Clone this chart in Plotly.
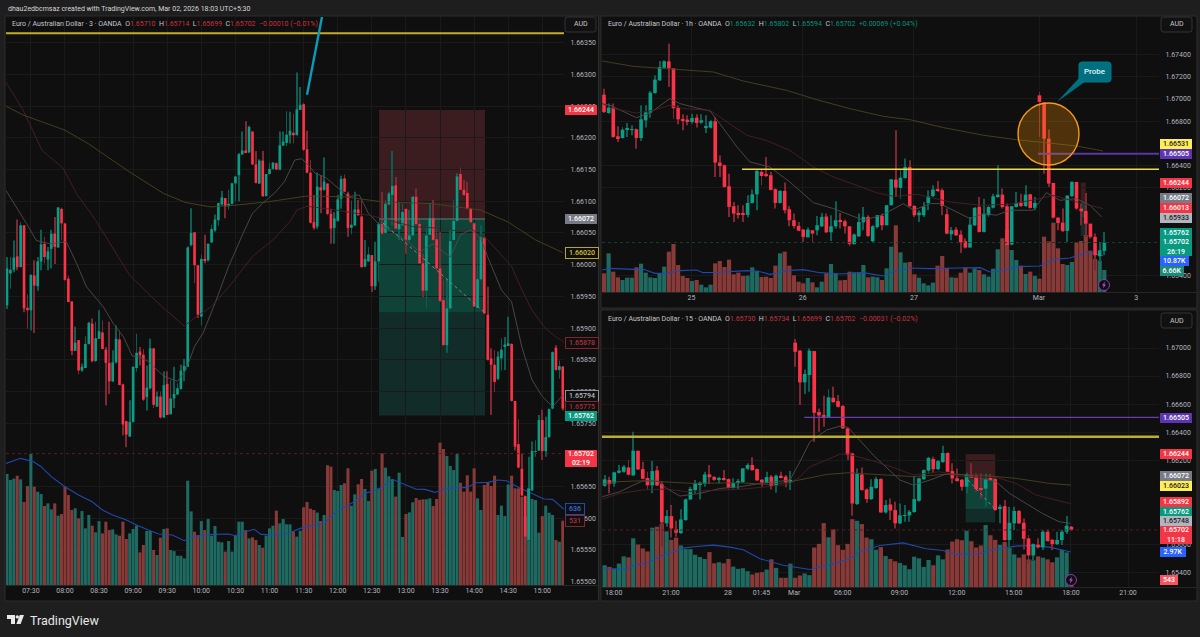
import plotly.graph_objects as go

W, H = 1200, 637

# prices are stored in points: 65936 means 1.65936

# --- 3 minute pane ---
O_3M = [65936,65986,65992,66013,65996,66062,65932,65928,65983,65966,
        66005,66033,66008,66025,66049,66027,66088,66065,65978,65942,
        65864,65881,65833,65837,65875,65907,65848,65883,65893,65866,
        65845,65816,65846,65882,65811,65753,65729,65752,65837,65863,
        65858,65791,65805,65868,65776,65792,65759,65812,65764,65789,
        65795,65804,65833,65839,66031,66051,65999,65918,66009,66007,
        66035,66054,66070,66095,66105,66092,66096,66128,66141,66174,
        66180,66177,66210,66158,66128,66164,66108,66143,66151,66160,
        66150,66188,66192,66204,66208,66204,66244,66253,66182,66145,
        66067,66060,66122,66118,66128,66080,66058,66069,66104,66136,
        66112,66058,66062,66087,66076,65997,66005,66015,65966,66005,
        66064,66050,66095,66110,66125,66056,66062,66088,66039,66046,
        66107,66064,66002,65959,66047,66073,66040,65994,65944,65873,
        65931,66039,66069,66143,66118,66113,66088,66065,65932,65977,
        66043,65921,65852,65842,65820,65852,65871,65873,65875,65785,
        65717,65678,65635,65566,65644,65705,65707,65755,65706,65728,
        65773,65869,65834,65839]
H_3M = [66012,66012,66038,66071,66067,66062,65953,65984,66007,66012,
        66055,66044,66028,66055,66075,66091,66090,66065,65983,65942,
        65902,65881,65844,65887,65910,65915,65910,65928,65912,65870,
        65910,65865,65904,65896,65812,65754,65786,65839,65891,65870,
        65867,65841,65883,65868,65800,65800,65832,65832,65818,65839,
        65813,65842,65851,66029,66089,66051,65999,66016,66047,66033,
        66063,66079,66098,66116,66105,66118,66129,66140,66176,66210,
        66226,66219,66210,66179,66166,66179,66143,66161,66161,66161,
        66210,66210,66242,66241,66238,66303,66280,66255,66211,66165,
        66110,66145,66141,66169,66128,66088,66083,66110,66140,66142,
        66115,66101,66115,66102,66104,66039,66028,66015,66036,66067,
        66115,66102,66115,66179,66138,66099,66096,66088,66086,66108,
        66120,66070,66017,66060,66097,66102,66060,66052,65976,65976,
        66055,66102,66144,66153,66134,66131,66089,66066,66039,66062,
        66043,65965,65868,65865,65863,65884,65886,65918,65876,65785,
        65756,65702,65636,65697,65721,65723,65763,65771,65760,65773,
        65863,65873,65849,65840]
L_3M = [65930,65962,65988,65991,65996,65925,65899,65896,65892,65959,
        65991,66002,65991,65994,66001,66027,66038,65975,65941,65857,
        65864,65827,65831,65837,65874,65846,65846,65883,65866,65778,
        65796,65815,65844,65810,65731,65712,65728,65751,65831,65841,
        65785,65770,65803,65774,65776,65757,65758,65763,65764,65774,
        65795,65803,65816,65839,66029,65971,65916,65904,66002,66005,
        66034,66052,66061,66093,66073,66087,66095,66100,66100,66173,
        66176,66176,66157,66128,66127,66107,66108,66142,66150,66149,
        66149,66187,66187,66191,66191,66204,66244,66179,66144,66065,
        66055,66056,66081,66117,66078,66033,66033,66068,66088,66114,
        66044,66048,66061,66077,65995,65996,66004,65957,65960,65973,
        66048,66049,66094,66062,66056,66039,66061,66017,66037,66045,
        66062,66001,65949,65932,66047,66038,65992,65941,65873,65861,
        65931,66039,66069,66118,66109,66087,66066,65934,65931,65976,
        65922,65849,65763,65799,65818,65833,65834,65873,65784,65707,
        65678,65635,65570,65565,65643,65697,65706,65692,65697,65727,
        65772,65833,65820,65770]
C_3M = [65994,65992,66011,65996,66062,65931,65928,65984,65967,66005,
        66032,66012,66021,66049,66028,66090,66065,65976,65941,65864,
        65877,65833,65839,65875,65908,65848,65884,65895,65867,65845,
        65816,65846,65883,65810,65748,65732,65752,65839,65861,65857,
        65787,65806,65868,65779,65792,65759,65810,65763,65789,65796,
        65805,65833,65840,66027,66050,65999,65921,66009,66007,66033,
        66056,66071,66097,66106,66092,66096,66128,66139,66174,66180,
        66177,66217,66158,66129,66164,66108,66143,66151,66161,66150,
        66188,66194,66205,66211,66204,66245,66252,66181,66145,66066,
        66058,66123,66117,66131,66080,66057,66073,66103,66135,66115,
        66058,66063,66087,66078,65996,66009,66016,65966,66005,66064,
        66049,66096,66112,66124,66057,66064,66083,66039,66046,66107,
        66064,66002,65959,66046,66073,66039,65994,65943,65873,65931,
        66037,66069,66139,66118,66110,66089,66067,65934,65977,66043,
        65923,65850,65842,65815,65855,65866,65874,65876,65785,65713,
        65680,65636,65571,65647,65706,65706,65755,65706,65728,65772,
        65862,65834,65840,65773]
V_3M = [929,879,890,915,884,695,828,1096,823,781,
        762,661,683,633,683,580,594,823,753,628,
        642,558,619,474,586,496,441,535,432,530,
        460,466,424,413,530,385,432,469,496,273,
        335,452,452,293,251,396,469,474,293,284,
        245,245,223,873,616,446,418,535,460,552,
        413,494,362,357,279,368,279,413,530,530,
        460,390,399,376,335,312,413,474,496,622,
        516,552,508,508,447,405,455,650,695,639,
        628,606,536,586,1002,991,795,787,837,851,
        977,664,759,843,887,804,703,957,971,809,
        1102,982,910,887,740,940,402,594,608,692,
        728,712,717,717,725,661,720,1191,1138,1079,
        996,962,1096,856,781,918,781,976,725,628,
        837,859,828,915,586,664,577,842,915,809,
        809,739,572,809,720,711,438,577,664,605,
        586,376,362,538]

GRAY_3M_I = [0.7,4.7,6.7,9.6,13.5,18.4,21.4,24.3,29.3,32.2,35.2,37.7,40,42.5,44,47,51,53.5,56,58.5,62,66,
             70.3,73,76,79.5,82.4,85.4,87.4,89.4,91.4,94.3,98.3,101,104.3,107,110,114,118,122,126,129,131,
             134,137,140,142,146,149,152,155,158,161,164]
GRAY_3M = [66117,66083,66065,66038,66033,66036,66002,65965,65933,65907,65886,65856,65854,65847,65839,65824,
           65816,65834,65871,65892,65939,65997,66050,66081,66097,66113,66131,66165,66167,66157,66144,66138,
           66120,66107,66110,66081,66064,66052,66039,66020,66033,66020,66012,66047,66055,66041,66012,65960,
           65941,65870,65818,65792,65776,65794]
RED_3M_I = [0.7,5.7,11.3,17.5,21.4,27,37,41.5,46.4,53,56,61,67,73,79,84,86,89,95,107,111,120,129,134,137,
            142,149,152,155,159,162,164.3]
RED_3M = [66288,66244,66180,66152,66112,66070,65983,65960,65934,65903,65916,65934,65971,66013,66039,66068,
          66086,66092,66088,66078,66073,66060,66057,66052,66057,66039,65997,65960,65928,65899,65886,65878]
OLIVE_3M_I = [0.7,5.7,18,24.8,37,47,53.4,60.7,68.5,77.5,88.7,100,111,126,140,148,156,164]
OLIVE_3M = [66250,66236,66212,66191,66146,66112,66098,66091,66094,66099,66108,66107,66099,66096,66086,66067,
            66039,66019]
VMA_3M_I = [0.7,5,8.8,11,14,18,22,26,29,32,36,39,43,45.5,49.5,53,55,61,66,68,71,73.5,75.5,79,83,87,94,97,
            101,103,106,110,114,117,121,123.6,126.5,130,136,138.5,142,145,147.5,151.5,154.5,158.5,161,164.3]
VMA_3M = [1018,1060,1032,990,907,823,753,697,628,586,544,502,455,427,418,371,399,424,427,413,446,466,424,418,
          427,474,516,600,670,698,767,801,885,851,801,800,775,809,817,856,859,879,873,809,773,720,717,636]

# --- 1 hour pane ---
O_1H = [67039,66873,66922,66663,66647,66723,66720,66726,66647,66807,
        66876,67054,67169,67283,67340,67277,66922,66816,66813,66792,
        66831,66786,66741,66741,66798,66425,66400,66211,66030,65970,
        65964,65952,66060,66138,66343,66316,66310,66184,66060,66169,
        66003,65904,65852,65819,65750,65813,65813,65849,65937,65795,
        65849,65904,65894,65849,65687,65759,65885,65934,65714,65843,
        65943,65858,66039,66271,66196,66286,66385,66033,65949,65949,
        66060,66123,66184,66175,65958,65777,65819,65774,65714,65657,
        65858,66024,65798,65949,66018,66114,66135,66030,65684,66024,
        66063,66033,66138,66015,67033,66967,66641,66241,65928,65882,
        65807,66123,66250,66009,65988,65873,65753,65578,65627]
H_1H = [67093,66958,66958,66753,66747,66783,66762,66732,66943,66943,
        67072,67214,67343,67349,67500,67277,66943,66861,66852,66867,
        66861,66861,66852,66807,66837,66491,66407,66325,66069,66039,
        66039,66129,66181,66361,66361,66476,66340,66190,66175,66244,
        66033,65964,65888,65825,65837,65813,65943,65970,65964,65949,
        66075,65970,65910,65849,65783,65964,66024,65949,65858,65949,
        65964,66039,66274,66717,66370,66461,66446,66039,65994,66069,
        66175,66220,66259,66190,66009,65843,65843,65813,65738,65934,
        66024,66114,66099,66039,66144,66400,66190,66054,66033,66160,
        66144,66220,66144,66114,67063,66973,66723,66241,65928,66009,
        66129,66256,66250,66054,66151,65873,65783,65708,65798]
L_1H = [66873,66867,66650,66611,66641,66657,66672,66551,66620,66741,
        66831,67048,67163,67274,67108,66822,66771,66717,66762,66777,
        66741,66777,66693,66732,66295,66295,66199,65934,65888,65919,
        65888,65928,66054,65994,66220,66295,66175,66009,66054,65964,
        65849,65828,65804,65708,65747,65699,65768,65843,65789,65717,
        65828,65828,65783,65669,65687,65753,65813,65753,65708,65828,
        65813,65858,66039,66114,66099,66280,66024,65934,65888,65934,
        65994,66114,66160,65949,65777,65723,65762,65608,65648,65657,
        65852,65792,65792,65934,66009,66108,66009,65672,65678,66018,
        66024,66024,66009,65994,66657,66325,66205,65919,65813,65798,
        65708,66114,65994,65858,65753,65738,65452,65527,65587]
C_1H = [66882,66922,66657,66647,66723,66729,66726,66647,66816,66879,
        67057,67175,67289,67340,67277,66916,66816,66807,66792,66828,
        66783,66807,66747,66798,66425,66394,66205,66024,65964,65958,
        65955,66060,66138,66349,66304,66304,66178,66060,66169,65994,
        65904,65852,65810,65753,65819,65783,65858,65934,65795,65849,
        65904,65888,65849,65687,65774,65888,65934,65762,65849,65949,
        65858,66039,66274,66199,66289,66385,66033,65949,65973,66024,
        66120,66181,66169,66033,65783,65813,65768,65705,65657,65864,
        66015,65798,65958,66024,66120,66135,66024,65678,66030,66060,
        66033,66135,66015,66060,66973,66641,66235,65928,65879,65807,
        66126,66250,66009,65985,65873,65753,65587,65632,65699]
V_1H = [5600,11600,6100,4400,3600,4300,4300,7400,8500,5800,
        4400,4200,5600,7600,12100,14400,8100,4800,4200,3300,
        3600,2200,1400,2200,8600,9300,7500,9700,5300,5800,
        4800,4900,7400,6400,4500,4600,4200,7900,11600,12100,
        7900,5000,3100,2600,4200,2900,1400,3100,5600,8400,
        5600,3500,3600,6100,5900,5900,8100,4400,4600,4400,
        3600,7100,13600,20000,11900,8800,9000,5300,4300,2600,
        2000,2800,7900,10800,7200,4400,4300,5800,7400,5800,
        7100,6600,5300,4600,7000,12800,16100,18600,12600,9600,
        7900,5400,6100,4800,4000,16600,15200,20800,13100,8400,
        8100,9000,14900,15300,17100,12400,9900,9400,6600]

GRAY_1H_I = [0.6,2.3,8,10.9,15.2,17.4,21,23.9,26.8,29.7,32.5,36.8,41.1,46.2,50.5,54.1,57,61,65.6,67.8,71.4,
             73.5,77,80,82.9,85.7,88.6,93.6,96.5,99.4,103,105.9,108.4]
GRAY_1H = [66958,66943,66831,66873,67003,66958,66919,66891,66732,66566,66431,66385,66250,66063,66009,65949,
           65904,65949,66054,65994,66054,66054,65979,65919,65964,65949,65994,65994,66153,66084,66099,66039,
           65934]
RED_1H_I = [0.6,3.7,8,11.6,15.2,18.1,23.9,27.5,31.8,36,41.1,46.2,50.5,54.1,59.9,63.5,68.6,75.7,82.2,88.6,
            95.1,98,103,108.7]
RED_1H = [66958,66907,66873,66897,66943,66913,66897,66792,66672,66626,66536,66385,66295,66241,66151,66120,
          66138,66069,66039,66048,66099,66129,66069,66009]
OLIVE_1H_I = [0.6,7.3,14.5,24.6,31,40.4,46.9,54,61.3,67,74.3,82.9,90,95,103,108.7]
OLIVE_1H = [67343,67295,67274,67244,67163,67078,66994,66913,66843,66813,66741,66672,66632,66611,66575,66530]
VMA_1H_I = [0.6,2.3,7.3,9.5,12,14.2,17.5,21,22.4,25.3,31.8,34.7,36.8,40.4,44,47.6,51.9,54,57,61.3,63.1,67,
            71.4,77.9,82.2,84.3,86.5,90,95.1,98,101.6,105.5,108.7]
VMA_1H = [6600,7100,6800,6800,5600,5600,6400,6600,5800,5900,6400,6100,5300,6400,6700,5800,5400,5600,5800,
          4800,5900,7200,7000,7200,7300,6000,6300,7600,7800,9800,10200,12000,10870]

# --- 15 minute pane ---
O_15 = [66017,66058,66034,66110,66117,66148,66091,66267,66136,66072,
        66020,66127,66029,65749,65801,65708,65680,65773,65920,65987,
        66025,66032,66098,66079,66065,66070,66065,66003,66036,66044,
        66139,66165,66136,66060,66039,66082,66017,66089,66082,66041,
        67038,66981,66755,66807,66978,66543,66522,66505,66645,66621,
        66586,66427,66248,65887,66098,65991,65922,66001,66065,65827,
        65884,65844,65749,65803,65806,65830,65910,66065,66125,66208,
        66136,66186,66251,66122,66070,66060,66010,66091,66084,66001,
        65996,66070,66065,65851,65872,65630,65749,65837,65753,65642,
        65520,65597,65578,65689,65632,65601,65630,65689,65725]
H_15 = [66094,66082,66117,66165,66165,66201,66403,66267,66189,66117,
        66193,66158,66051,65844,65880,65768,65849,65927,66010,66058,
        66046,66117,66165,66086,66082,66129,66070,66070,66065,66143,
        66177,66220,66141,66065,66117,66094,66098,66117,66094,66122,
        67064,66985,66847,66997,66978,66569,66660,66705,66724,66664,
        66593,66431,66253,66141,66148,65998,66063,66082,66070,65915,
        65927,65903,65891,65880,65844,66086,66075,66134,66224,66224,
        66201,66303,66255,66177,66141,66065,66110,66177,66105,66105,
        66105,66101,66070,65884,65915,65868,65868,65844,65784,65666,
        65606,65642,65701,65706,65635,65689,65701,65801,65730]
L_15 = [66010,65963,66010,66105,66110,66089,66089,66129,66063,65991,
        65963,66015,65582,65725,65649,65654,65673,65768,65915,65963,
        65920,66010,66029,66053,66034,66053,65998,65998,65994,66039,
        66129,66125,66051,66010,66034,65991,65968,66070,66006,65987,
        66866,66593,66671,66688,66331,66403,66438,66500,66610,66576,
        66422,66201,65803,65880,65982,65896,65915,65996,65825,65820,
        65773,65713,65744,65761,65761,65825,65903,66058,66101,66110,
        66129,66182,66113,66034,66046,65982,65963,66075,65975,65927,
        65868,66058,65839,65749,65625,65570,65701,65744,65563,65459,
        65487,65570,65559,65618,65559,65594,65594,65673,65696]
C_15 = [66063,66029,66113,66125,66153,66096,66267,66134,66067,66020,
        66122,66020,65756,65801,65713,65682,65777,65920,65994,66034,
        66039,66098,66079,66060,66072,66065,66003,66036,66051,66141,
        66165,66129,66056,66041,66079,66015,66089,66077,66041,66060,
        66973,66755,66814,66981,66538,66519,66505,66648,66614,66581,
        66427,66236,65891,66101,65987,65922,66010,66065,65827,65880,
        65841,65749,65806,65808,65832,65922,66070,66129,66217,66136,
        66193,66251,66117,66070,66056,66010,66098,66079,65994,65987,
        66065,66060,65844,65868,65630,65753,65837,65749,65639,65520,
        65601,65578,65689,65623,65601,65630,65689,65732,65701]
V_15 = [1848,1708,1568,1988,2604,2520,4144,3612,3276,3024,
        5040,5124,5404,4732,4004,4200,3528,3220,3220,2744,
        2548,2380,2968,2016,2100,2016,2380,1736,1540,1596,
        1344,1064,1204,1260,1484,2352,1624,784,784,1988,
        784,980,1148,1008,3360,3668,5432,4228,4900,3556,
        3164,3668,5768,5628,5348,4200,4060,3164,3388,2632,
        2380,2184,2044,1848,1512,2576,2436,1708,2296,1848,
        2688,2352,3192,3864,4060,3976,4788,3892,3360,3528,
        5264,4396,4004,3584,3836,3332,2772,2492,2772,2352,
        2268,2604,2492,2352,2100,2520,3164,2940,543]

GRAY_15_I = [0.5,4.2,7,9,11.9,14,16.8,21,25.2,29.4,33.6,39.9,42,44.1,47.6,50.4,52.1,57.4,63,65.8,69.3,72.7,
             76.9,83.2,86,89.5,92.9,96.4,98.8]
GRAY_15 = [65939,65975,66022,66051,66058,65998,65944,65963,65998,66010,66034,66058,66189,66331,66415,66443,
           66434,66236,66058,66022,66058,66101,66094,66046,65963,65891,65820,65761,65749]
RED_15_I = [0.5,4.2,9,14,18.2,23.8,30.1,35,39.9,42,44.1,47.6,50.4,52.1,56.7,61.6,65.8,71.3,76.2,83.2,87.4,
            91.6,95.8,98.9]
RED_15 = [65922,65963,65987,65994,65975,65982,65994,66010,66029,66082,66153,66201,66243,66243,66201,66148,
          66094,66117,66082,66077,66034,65951,65915,65889]
OLIVE_15_I = [0.5,3.8,9,14,19.6,29.4,35,39,42,47.6,52.1,59.5,66,73.4,80.4,87.4,94.4,98.9]
OLIVE_15 = [66029,66046,66053,66046,66034,66039,66027,66039,66058,66098,66110,66094,66082,66101,66091,66070,
            66034,66022]
VMA_15_I = [0.5,5.6,7.7,9.8,14,17.5,20.3,23.8,27.3,30.1,33.6,38.5,44.1,48.3,52.5,54.6,58.8,63.7,68.5,72,
            74.8,79.7,83.2,87.4,90.2,94.4,98.9]
VMA_15 = [1512,1540,1904,2044,2828,3304,3444,3556,3388,3164,2408,1848,1484,1904,2408,3024,3528,3752,3248,3108,
          2772,2828,3248,3472,3528,3388,2970]

# tick labels, the ones fully covered by a price tag in the picture are left out
TICKS_3M = [1.655,1.6555,1.656,1.6565,1.6575,1.658,1.6585,1.659,1.6595,1.66,1.6605,1.661,1.6615,1.662,
            1.6625,1.663,1.6635]
TICKS_1H = [1.654,1.662,1.664,1.668,1.67,1.672,1.674]
TICKS_15 = [1.654,1.656,1.662,1.664,1.666,1.668,1.67]
GRID_1H = [1.654,1.656,1.658,1.66,1.662,1.664,1.666,1.668,1.67,1.672,1.674]
GRID_15 = [1.654,1.656,1.658,1.66,1.662,1.664,1.666,1.668,1.67]
XT_3M = ["07:30","08:00","08:30","09:00","09:30","10:00","10:30","11:00","11:30","12:00","12:30","13:00","13:30",
         "14:00","14:30","15:00"]
XV_3M = [8,18,28,38,48,58,68,78,88,98,108,118,128,138,148,158]
XT_1H = ["25","26","27","Mar","3"]
XV_1H = [19.9,43.9,67.9,94.9,115.9]
XT_15 = ["18:00","21:00","28","01:45","Mar","06:00","09:00","12:00","15:00","18:00","21:00"]
XV_15 = [2.9,14.9,26.9,33.9,40.8,51,62.9,74.9,86.9,98.9,110.9]

UP, DOWN = "#0a9e87", "#fb3248"
UP_WICK, DOWN_WICK = "#0a5f52", "#7f2833"
UP_VOL, DOWN_VOL = "#1f6a60", "#873a38"
TEXT = "#b2b5be"
FONT = "Roboto"


def px(x):
    return x / W


def py(y):
    return 1 - y / H


def prices(points):
    return [1 + p / 100000 for p in points]


def pick(values, mask):
    return [v if m else None for v, m in zip(values, mask)]


fig = go.Figure()


def add_panel(n, o, h, l, c, v, lines, vma_i, vma, box, x_range, price_range, vol_max, ticks, xvals, xtext):
    suffix = "" if n == 1 else str(n)
    xa, ya, va = "x" + suffix, "y" + suffix, "y" + str(n + 3)
    idx = list(range(1, len(o) + 1))
    up = [a >= b for a, b in zip(c, o)]
    down = [not u for u in up]

    # volume sits on the base axis, price is laid over it
    fig.add_trace(go.Bar(x=idx, y=v, width=0.9, xaxis=xa, yaxis=va, showlegend=False,
                         marker=dict(color=[UP_VOL if u else DOWN_VOL for u in up], line_width=0)))
    fig.add_trace(go.Scatter(x=vma_i, y=vma, mode="lines", xaxis=xa, yaxis=va, showlegend=False,
                             line=dict(color="#2148ad", width=1.1)))

    for mask, wick in ((up, UP_WICK), (down, DOWN_WICK)):
        low, high = prices(l), prices(h)
        fig.add_trace(go.Bar(x=idx, base=pick(low, mask), y=pick([b - a for a, b in zip(low, high)], mask),
                             width=0.2, xaxis=xa, yaxis=ya, showlegend=False,
                             marker=dict(color=wick, line_width=0)))
    for mask, body in ((up, UP), (down, DOWN)):
        bot = prices([min(a, b) for a, b in zip(o, c)])
        top = prices([max(a, b) for a, b in zip(o, c)])
        fig.add_trace(go.Bar(x=idx, base=pick(bot, mask), y=pick([b - a for a, b in zip(bot, top)], mask),
                             width=0.78, xaxis=xa, yaxis=ya, showlegend=False,
                             marker=dict(color=body, line_width=0)))

    for xs, ys, color in lines:
        fig.add_trace(go.Scatter(x=xs, y=prices(ys), mode="lines", xaxis=xa, yaxis=ya, showlegend=False,
                                 line=dict(color=color, width=0.9)))

    fig.update_layout({
        "xaxis" + suffix: dict(domain=[px(box[0]), px(box[1])], range=x_range, anchor=va, tickvals=xvals,
                               ticktext=xtext, showgrid=True, gridcolor="#1a1a1a", zeroline=False,
                               ticks="", tickfont=dict(family=FONT, size=7, color=TEXT), showline=False),
        "yaxis" + str(n + 3): dict(domain=[py(box[3]), py(box[2])], range=[0, vol_max], anchor=xa,
                                   showgrid=False, zeroline=False, showticklabels=False, ticks=""),
        "yaxis" + suffix: dict(range=price_range, overlaying=va, anchor=xa, side="right", tickvals=ticks,
                               ticktext=["%.5f" % t for t in ticks], showgrid=True, gridcolor="#1a1a1a",
                               zeroline=False, ticks="outside", ticklen=4, tickcolor="rgba(0,0,0,0)",
                               tickfont=dict(family=FONT, size=7, color=TEXT), showline=False),
    })


add_panel(1, O_3M, H_3M, L_3M, C_3M, V_3M,
          [(GRAY_3M_I, GRAY_3M, "#4d4d4d"), (RED_3M_I, RED_3M, "#4a2024"), (OLIVE_3M_I, OLIVE_3M, "#4b4320")],
          VMA_3M_I, VMA_3M, (6, 564, 17, 585), [0.71, 164.36], [1.654948, 1.663905], 4754, TICKS_3M, XV_3M, XT_3M)
add_panel(2, O_1H, H_1H, L_1H, C_1H, V_1H,
          [(GRAY_1H_I, GRAY_1H, "#4d4d4d"), (RED_1H_I, RED_1H, "#4a2024"), (OLIVE_1H_I, OLIVE_1H, "#4b4320")],
          VMA_1H_I, VMA_1H, (602, 1159, 17, 292), [0.57, 120.8], [1.65255, 1.67741], 82500, TICKS_1H, XV_1H, XT_1H)
add_panel(3, O_15, H_15, L_15, C_15, V_15,
          [(GRAY_15_I, GRAY_15, "#4d4d4d"), (RED_15_I, RED_15, "#4a2024"), (OLIVE_15_I, OLIVE_15, "#4b4320")],
          VMA_15_I, VMA_15, (602, 1159, 311, 587), [0.44, 117.4], [1.65295, 1.67264], 23460, TICKS_15, XV_15, XT_15)

shapes = []


def panel_rect(x0, y0, x1, y1):
    shapes.append(dict(type="rect", xref="paper", yref="paper", x0=px(x0), x1=px(x1), y0=py(y1), y1=py(y0),
                       fillcolor="#0f0f0f", line=dict(color="#2c2c2c", width=1), layer="below"))


panel_rect(5, 16, 598.5, 601)
panel_rect(601, 16, 1197, 308)
panel_rect(601, 310, 1197, 601)


def hline(xa, ya, x0, x1, price, color, width=1, dash="solid", layer="above"):
    shapes.append(dict(type="line", xref=xa, yref=ya, x0=x0, x1=x1, y0=price, y1=price, layer=layer,
                       line=dict(color=color, width=width, dash=dash)))


def position(xa, ya, x0, x1, top, mid, split, bottom):
    for p0, p1, color in ((top, mid, "#3b1c1f"), (mid, split, "#0f4338"), (split, bottom, "#122d29")):
        shapes.append(dict(type="rect", xref=xa, yref=ya, x0=x0, x1=x1, y0=p0, y1=p1, layer="below",
                           fillcolor=color, line_width=0))


def rounded(x0, y0, x1, y1, r):
    return ("M {a},{t} L {b},{t} Q {c},{t} {c},{e} L {c},{f} Q {c},{g} {b},{g} L {a},{g} Q {d},{g} {d},{f} "
            "L {d},{e} Q {d},{t} {a},{t} Z").format(
        a=px(x0 + r), b=px(x1 - r), c=px(x1), d=px(x0), t=py(y0), g=py(y1), e=py(y0 + r), f=py(y1 - r))


# 3 minute pane drawings
position("x", "y", 110.1, 141.2, 1.66244, 1.66072, 1.65924, 1.65762)
hline("x", "y", 110.1, 141.2, 1.66072, "#5f7d76", 1)
hline("x", "y", 0.71, 164.36, 1.66365, "#c3ad2a", 2)
hline("x", "y", 0.71, 164.36, 1.65702, "#571c22", 1, "dot")
shapes.append(dict(type="line", xref="x", yref="y", x0=111.2, x1=141, y0=1.66066, y1=1.65925, layer="above",
                   line=dict(color="#7d8a86", width=1, dash="dot")))
shapes.append(dict(type="line", xref="x", yref="y", x0=88.98, x1=93.5, y0=1.66268, y1=1.66394, layer="above",
                   line=dict(color="#0a9bb5", width=2.4)))

# 1 hour pane drawings
position("x2", "y2", 103.9, 105, 1.66244, 1.66072, 1.65925, 1.65762)
hline("x2", "y2", 30.8, 120.8, 1.66365, "#efdc45", 1.6)
hline("x2", "y2", 94.7, 120.8, 1.66505, "#5a35a8", 1.8)
hline("x2", "y2", 0.57, 120.8, 1.65702, "#12402f", 1, "dot")
shapes.append(dict(type="circle", xref="paper", yref="paper", x0=px(1018), x1=px(1079), y0=py(165), y1=py(103),
                   fillcolor="rgba(255,152,0,0.26)", line=dict(color="#f5981c", width=1.4), layer="above"))
shapes.append(dict(type="path", xref="paper", yref="paper", layer="above", fillcolor="#006f80", line_width=0,
                   path="M %f,%f L %f,%f L %f,%f Z" % (px(1079), py(78), px(1057), py(102), px(1086), py(81))))
shapes.append(dict(type="path", xref="paper", yref="paper", layer="above", fillcolor="#006f80",
                   line=dict(color="#00798b", width=1), path=rounded(1079, 62, 1111, 82, 3)))

# 15 minute pane drawings
position("x3", "y3", 76.8, 83, 1.66243, 1.66065, 1.65851, 1.65756)
hline("x3", "y3", 0.44, 117.4, 1.66367, "#bfae2d", 2.4)
hline("x3", "y3", 42.9, 117.4, 1.66505, "#6a3ab5", 1.3)
hline("x3", "y3", 0.44, 117.4, 1.65702, "#571c22", 1, "dot")
shapes.append(dict(type="line", xref="x3", yref="y3", x0=77.3, x1=82.8, y0=1.66058, y1=1.65856, layer="above",
                   line=dict(color="#7d8a86", width=1, dash="dot")))

# rules between the charts and their time scales
for x0, x1, y in ((6, 598, 585.5), (602, 1196, 292.5), (602, 1196, 587.5)):
    shapes.append(dict(type="line", xref="paper", yref="paper", x0=px(x0), x1=px(x1), y0=py(y), y1=py(y),
                       line=dict(color="#262626", width=1), layer="above"))

# lightning badges, a circle with a bolt
for cx, cy in ((1104, 285), (1071, 580)):
    shapes.append(dict(type="circle", xref="paper", yref="paper", x0=px(cx - 5.5), x1=px(cx + 5.5),
                       y0=py(cy + 5.5), y1=py(cy - 5.5), fillcolor="#0f0f0f",
                       line=dict(color="#8e3bb0", width=1), layer="above"))
    shapes.append(dict(type="path", xref="paper", yref="paper", layer="above", fillcolor="#a64fd0", line_width=0,
                       path="M %f,%f L %f,%f L %f,%f L %f,%f L %f,%f L %f,%f Z" % (
                           px(cx + 1), py(cy - 3.5), px(cx - 2), py(cy + 0.5), px(cx - 0.3), py(cy + 0.5),
                           px(cx - 1), py(cy + 3.5), px(cx + 2), py(cy - 0.5), px(cx + 0.3), py(cy - 0.5))))

# TradingView mark
shapes.append(dict(type="path", xref="paper", yref="paper", layer="above", fillcolor="#e8e8e8", line_width=0,
                   path="M %f,%f L %f,%f L %f,%f L %f,%f L %f,%f L %f,%f Z" % (
                       px(7), py(615), px(15), py(615), px(15), py(624), px(11), py(624), px(11), py(619),
                       px(7), py(619))))
shapes.append(dict(type="circle", xref="paper", yref="paper", layer="above", fillcolor="#e8e8e8", line_width=0,
                   x0=px(15.6), x1=px(19), y0=py(618.6), y1=py(615.2)))
shapes.append(dict(type="path", xref="paper", yref="paper", layer="above", fillcolor="#e8e8e8", line_width=0,
                   path="M %f,%f L %f,%f L %f,%f L %f,%f Z" % (
                       px(24), py(615), px(19.8), py(615), px(16.4), py(624), px(20.6), py(624))))

annotations = []


def note(x, y, text, size=7, color=TEXT, anchor="left", weight=None, **kw):
    annotations.append(dict(xref="paper", yref="paper", x=px(x), y=py(y), text=text, showarrow=False,
                            xanchor=anchor, yanchor="middle",
                            font=dict(family=FONT, size=size, color=color, weight=weight), **kw))


def tag(x, y, text, bg, fg, w=32, h=9.6, border=None):
    note(x, y, text, color=fg, weight=500, width=w, height=h, bgcolor=bg, align="center", borderpad=0,
         bordercolor=border or bg, borderwidth=1 if border else 0)


def legend(x, y, name, values, tone):
    parts = ["%s<span style='color:%s'>%s</span>" % (k, tone, val) for k, val in values[:4]]
    note(x, y, name + "&nbsp;&nbsp;" + "&nbsp;&nbsp;".join(parts)
         + "&nbsp;&nbsp;<span style='color:%s'>%s</span>" % (tone, values[4]), color="#c4c6cc")


note(6, 9, "dhau2edbcmsaz created with TradingView.com, Mar 02, 2026 18:03 UTC+5:30", color="#d6d6d6")
legend(10, 24, "Euro / Australian Dollar · 3 · OANDA",
       [("O", "1.65710"), ("H", "1.65714"), ("L", "1.65699"), ("C", "1.65702"), "−0.00010 (−0.01%)"], "#c9323f")
legend(606, 23.7, "Euro / Australian Dollar · 1h · OANDA",
       [("O", "1.65632"), ("H", "1.65802"), ("L", "1.65594"), ("C", "1.65702"), "+0.00069 (+0.04%)"], "#0b8f7a")
legend(606, 319, "Euro / Australian Dollar · 15 · OANDA",
       [("O", "1.65730"), ("H", "1.65734"), ("L", "1.65699"), ("C", "1.65702"), "−0.00031 (−0.02%)"], "#c9323f")

# currency buttons
for x, y in ((565, 24.5), (1161, 24.5), (1161, 320.5)):
    shapes.append(dict(type="path", xref="paper", yref="paper", layer="above", fillcolor="#111111",
                       line=dict(color="#353535", width=1), path=rounded(x, y - 7.5, x + 31, y + 7.5, 2.5)))
    note(x + 15.5, y, "AUD", color="#c8c8c8", anchor="center")

# price scale tags, 3 minute pane
LX = 564.5
tag(LX, 110, "1.66244", "#f23645", "#ffffff")
tag(LX, 219, "1.66072", "#787b86", "#ffffff")
tag(LX, 252.5, "1.66020", "#0f0f0f", "#d8c12f", border="#b9a428")
tag(LX, 342.5, "1.65878", "#0f0f0f", "#b5303c", border="#7f2630")
tag(LX, 395.5, "1.65794", "#0f0f0f", "#b2b5be", border="#8c8f96")
tag(LX, 406.5, "1.65775", "#0f0f0f", "#a82c38", border="#7f2630")
tag(LX, 416, "1.65762", "#089981", "#ffffff")
tag(LX, 458, "1.65702<br>02:19", "#f23645", "#ffffff", h=17)
tag(LX, 509, "636", "#0f0f0f", "#3d6fe0", w=18, border="#2148ad")
tag(LX, 521, "531", "#0f0f0f", "#b5303c", w=18, border="#7f2630")

# price scale tags, 1 hour pane
RX = 1159.5
tag(RX, 144, "1.66531", "#ffee58", "#1a1a1a")
tag(RX, 154, "1.66505", "#5e35b1", "#ffffff")
tag(RX, 183, "1.66244", "#f23645", "#ffffff")
tag(RX, 198, "1.66072", "#787b86", "#ffffff")
tag(RX, 208, "1.66013", "#f23645", "#ffffff")
tag(RX, 218, "1.65933", "#b2b5be", "#1a1a1a")
tag(RX, 233, "1.65762", "#089981", "#ffffff")
tag(RX, 247, "1.65702<br>26:19", "#089981", "#ffffff", h=18)
tag(RX, 261, "10.87K", "#2962ff", "#ffffff", w=29)
tag(RX, 271, "6.66K", "#1f8a78", "#ffffff", w=24)

# price scale tags, 15 minute pane
tag(RX, 418, "1.66505", "#5e35b1", "#ffffff")
tag(RX, 454, "1.66244", "#f23645", "#ffffff")
tag(RX, 476, "1.66072", "#787b86", "#ffffff")
tag(RX, 486, "1.66023", "#ffee58", "#1a1a1a")
tag(RX, 502, "1.65892", "#f23645", "#ffffff")
tag(RX, 511.5, "1.65762", "#089981", "#ffffff")
tag(RX, 521, "1.65748", "#b2b5be", "#1a1a1a")
tag(RX, 534.5, "1.65702<br>11:18", "#f23645", "#ffffff", h=18)
tag(RX, 552, "2.97K", "#2962ff", "#ffffff", w=26)
tag(RX, 580, "543", "#f7525f", "#ffffff", w=18)

# callout text
note(1095, 72, "Probe", size=8, color="#e6f6f8", anchor="center", weight=500)

note(27.5, 620, "TradingView", size=12.5, color="#e8e8e8")

fig.update_layout(
    width=W, height=H, margin=dict(l=0, r=0, t=0, b=0),
    paper_bgcolor="#1e1e1e", plot_bgcolor="#0f0f0f",
    barmode="overlay", showlegend=False, hovermode=False,
    shapes=shapes, annotations=annotations,
)

fig.write_html("out.html", config={"displayModeBar": False},
               post_script="document.body.style.margin='0';document.body.style.overflow='hidden';")
